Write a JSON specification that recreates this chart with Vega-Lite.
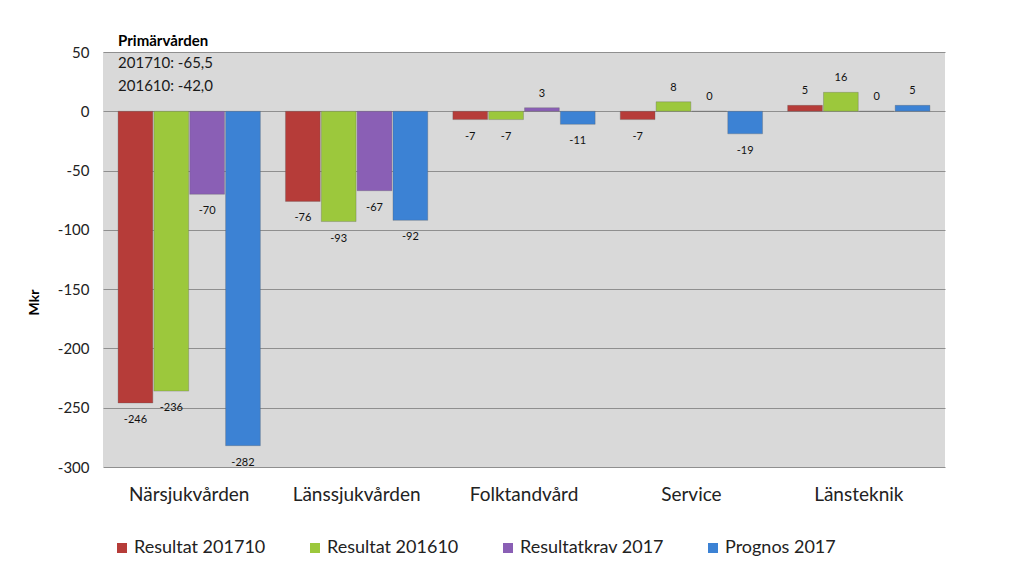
{
  "$schema": "https://vega.github.io/schema/vega-lite/v6.json",
  "autosize": "none",
  "width": 842,
  "height": 415,
  "padding": {"left": 103, "top": 52, "right": 79, "bottom": 115},
  "background": "white",
  "datasets": {
    "bars": [
      {"enhet": "Närsjukvården", "serie": "Resultat 201710", "mkr": -246},
      {"enhet": "Närsjukvården", "serie": "Resultat 201610", "mkr": -236},
      {"enhet": "Närsjukvården", "serie": "Resultatkrav 2017", "mkr": -70},
      {"enhet": "Närsjukvården", "serie": "Prognos 2017", "mkr": -282},
      {"enhet": "Länssjukvården", "serie": "Resultat 201710", "mkr": -76},
      {"enhet": "Länssjukvården", "serie": "Resultat 201610", "mkr": -93},
      {"enhet": "Länssjukvården", "serie": "Resultatkrav 2017", "mkr": -67},
      {"enhet": "Länssjukvården", "serie": "Prognos 2017", "mkr": -92},
      {"enhet": "Folktandvård", "serie": "Resultat 201710", "mkr": -7},
      {"enhet": "Folktandvård", "serie": "Resultat 201610", "mkr": -7},
      {"enhet": "Folktandvård", "serie": "Resultatkrav 2017", "mkr": 3},
      {"enhet": "Folktandvård", "serie": "Prognos 2017", "mkr": -11},
      {"enhet": "Service", "serie": "Resultat 201710", "mkr": -7},
      {"enhet": "Service", "serie": "Resultat 201610", "mkr": 8},
      {"enhet": "Service", "serie": "Resultatkrav 2017", "mkr": 0},
      {"enhet": "Service", "serie": "Prognos 2017", "mkr": -19},
      {"enhet": "Länsteknik", "serie": "Resultat 201710", "mkr": 5},
      {"enhet": "Länsteknik", "serie": "Resultat 201610", "mkr": 16},
      {"enhet": "Länsteknik", "serie": "Resultatkrav 2017", "mkr": 0},
      {"enhet": "Länsteknik", "serie": "Prognos 2017", "mkr": 5}
    ],
    "notes": [
      {"enhet": "Närsjukvården", "text": "Primärvården", "mkr": 59.5, "vikt": "bold"},
      {"enhet": "Närsjukvården", "text": "201710: -65,5", "mkr": 41, "vikt": "normal"},
      {"enhet": "Närsjukvården", "text": "201610: -42,0", "mkr": 21.5, "vikt": "normal"}
    ]
  },
  "data": {"name": "bars"},
  "encoding": {
    "x": {
      "field": "enhet",
      "type": "nominal",
      "sort": null,
      "scale": {"paddingInner": 0.15, "paddingOuter": 0.09},
      "axis": {
        "title": null,
        "labelAngle": 0,
        "labelFontSize": 19,
        "labelColor": "#222222",
        "labelPadding": 18,
        "ticks": false,
        "domain": false
      }
    },
    "xOffset": {
      "field": "serie",
      "type": "nominal",
      "sort": ["Resultat 201710", "Resultat 201610", "Resultatkrav 2017", "Prognos 2017"],
      "scale": {"paddingInner": 0.03}
    },
    "y": {
      "field": "mkr",
      "type": "quantitative",
      "scale": {"domain": [-300, 50], "nice": false},
      "axis": {
        "title": "Mkr",
        "titleFontSize": 14,
        "titleFontWeight": "bold",
        "titleColor": "#000000",
        "titleX": -62,
        "titleY": 250,
        "values": [50, 0, -50, -100, -150, -200, -250, -300],
        "format": "d",
        "labelFontSize": 15,
        "labelColor": "#222222",
        "labelPadding": 14,
        "ticks": false,
        "domain": false,
        "gridColor": "#8f8f8f",
        "gridOpacity": 1
      }
    }
  },
  "layer": [
    {
      "mark": {"type": "bar", "stroke": "#5a5a5a", "strokeWidth": 0.6, "strokeOpacity": 0.5},
      "encoding": {
        "color": {
          "field": "serie",
          "type": "nominal",
          "sort": ["Resultat 201710", "Resultat 201610", "Resultatkrav 2017", "Prognos 2017"],
          "scale": {
            "domain": ["Resultat 201710", "Resultat 201610", "Resultatkrav 2017", "Prognos 2017"],
            "range": ["#b63c39", "#9cc83c", "#8a5fb5", "#3c82d4"]
          },
          "legend": {
            "title": null,
            "orient": "none",
            "direction": "horizontal",
            "legendX": 10,
            "legendY": 487,
            "symbolType": "square",
            "symbolSize": 100,
            "symbolStrokeWidth": 0,
            "labelFontSize": 18,
            "labelColor": "#222222",
            "labelOffset": 3,
            "columnPadding": 40
          }
        }
      }
    },
    {
      "transform": [{"filter": "datum.mkr < 0"}],
      "mark": {"type": "text", "baseline": "middle", "dy": 17, "fontSize": 11, "color": "#111111"},
      "encoding": {"text": {"field": "mkr", "type": "quantitative", "format": "d"}}
    },
    {
      "transform": [{"filter": "datum.mkr >= 0"}],
      "mark": {"type": "text", "baseline": "middle", "dy": -14, "fontSize": 11, "color": "#111111"},
      "encoding": {"text": {"field": "mkr", "type": "quantitative", "format": "d"}}
    },
    {
      "data": {"name": "notes"},
      "transform": [{"filter": "datum.vikt == 'normal'"}],
      "mark": {"type": "text", "align": "left", "baseline": "middle", "fontSize": 15, "color": "#1a1a1a", "clip": false},
      "encoding": {
        "x": {"field": "enhet", "type": "nominal", "bandPosition": 0},
        "xOffset": {"value": 0},
        "y": {"field": "mkr", "type": "quantitative"},
        "text": {"field": "text"}
      }
    },
    {
      "data": {"name": "notes"},
      "transform": [{"filter": "datum.vikt == 'bold'"}],
      "mark": {"type": "text", "align": "left", "baseline": "middle", "fontSize": 15, "fontWeight": "bold", "color": "#000000", "clip": false},
      "encoding": {
        "x": {"field": "enhet", "type": "nominal", "bandPosition": 0},
        "xOffset": {"value": 0},
        "y": {"field": "mkr", "type": "quantitative"},
        "text": {"field": "text"}
      }
    }
  ],
  "config": {
    "font": "Lato",
    "locale": {
      "number": {
        "decimal": ",",
        "thousands": " ",
        "grouping": [3],
        "currency": ["", " kr"],
        "minus": "-"
      }
    },
    "view": {"fill": "#d9d9d9", "stroke": null}
  }
}
